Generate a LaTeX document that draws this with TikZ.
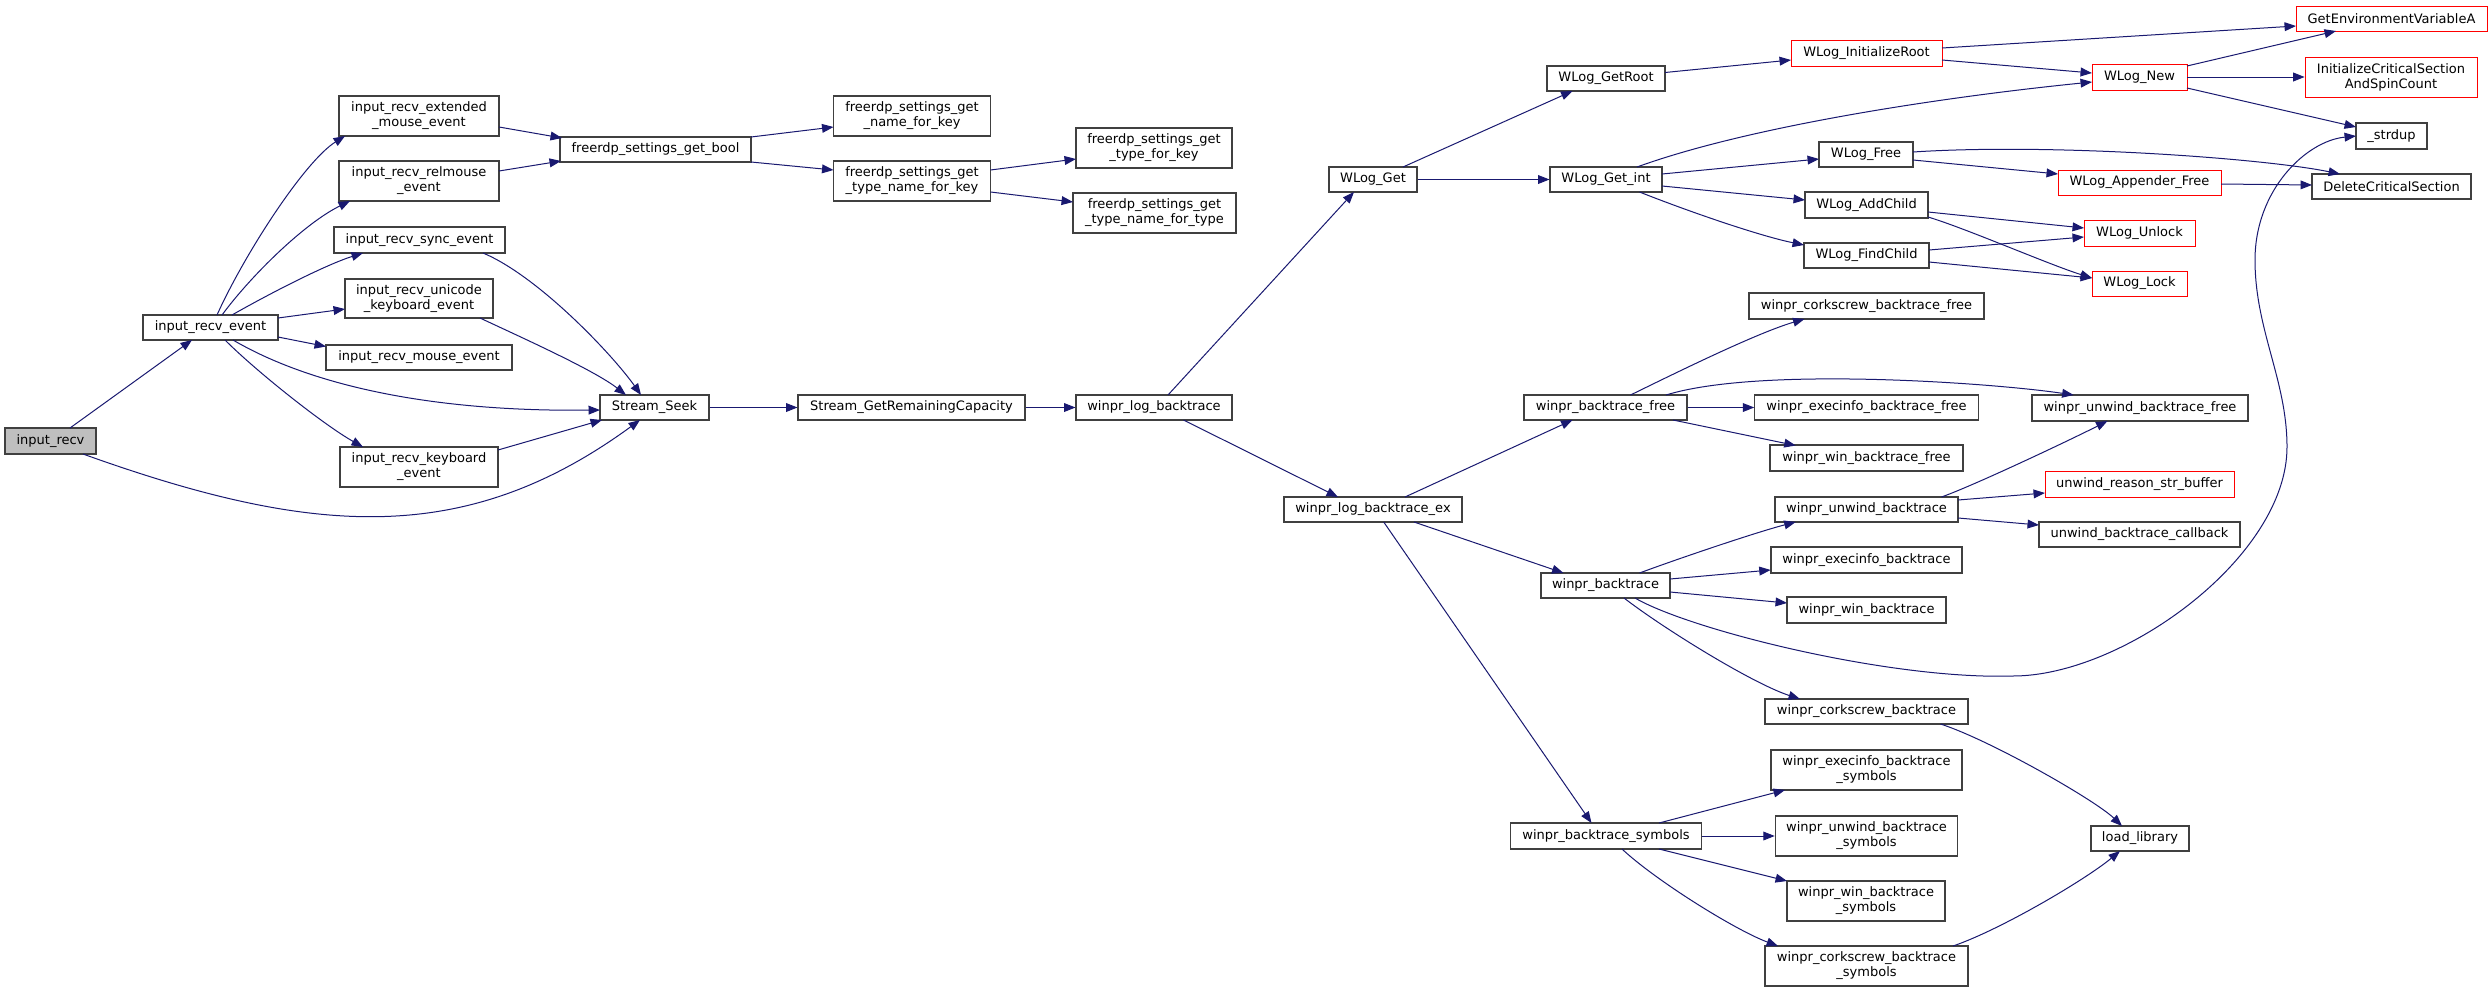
\documentclass[tikz,border=0pt]{standalone}
\usepackage{fontspec}
\setmainfont{DejaVu Sans}
\usetikzlibrary{arrows.meta,calc}
\definecolor{edgec}{HTML}{191970}
\definecolor{boxc}{HTML}{404040}
\definecolor{redc}{HTML}{FF0000}
\definecolor{rootc}{HTML}{BFBFBF}
\tikzset{
  nd/.style={draw=boxc, line width=0.8pt, fill=white, inner sep=0pt, align=center,
    font=\fontsize{9.75}{11.3}\selectfont},
  rd/.style={nd, draw=redc, line width=0.6pt},
  sz/.style 2 args={minimum width=#1*0.75pt, minimum height=#2*0.75pt},
  ed/.style={draw=edgec, line width=0.75pt, -{Triangle[length=8.6pt,width=6.6pt]}},
}
\begin{document}
\begin{tikzpicture}[x=0.75pt,y=-0.75pt]
\fill[white] (0,0) rectangle (2492,993);
\useasboundingbox (0,0) rectangle (2492,993);
% column 0-2
\node[nd,sz={91}{26},fill=rootc] (irecv) at (50.5,441) {input\_recv};
\node[nd,sz={135}{25}] (irevt) at (210.5,327.5) {input\_recv\_event};
\node[nd,sz={160}{40}] (ext) at (419,116) {input\_recv\_extended\\\_mouse\_event};
\node[nd,sz={160}{40}] (rel) at (419,181) {input\_recv\_relmouse\\\_event};
\node[nd,sz={171}{26}] (sync) at (419.5,240) {input\_recv\_sync\_event};
\node[nd,sz={148}{39}] (uni) at (419,298.5) {input\_recv\_unicode\\\_keyboard\_event};
\node[nd,sz={186}{25}] (mouse) at (419,357.5) {input\_recv\_mouse\_event};
\node[nd,sz={158}{40}] (kbd) at (419,467) {input\_recv\_keyboard\\\_event};
% column 3-5
\node[nd,sz={191}{25}] (gbool) at (655.5,149.5) {freerdp\_settings\_get\_bool};
\node[nd,sz={109}{25}] (seek) at (654.5,407.5) {Stream\_Seek};
\node[nd,sz={157}{40}] (nfk) at (912,116) {freerdp\_settings\_get\\\_name\_for\_key};
\node[nd,sz={157}{40}] (tnfk) at (912,181) {freerdp\_settings\_get\\\_type\_name\_for\_key};
\node[nd,sz={227}{25}] (cap) at (911.5,407.5) {Stream\_GetRemainingCapacity};
\node[nd,sz={156}{40}] (tfk) at (1154,148) {freerdp\_settings\_get\\\_type\_for\_key};
\node[nd,sz={163}{40}] (tnft) at (1154.5,213) {freerdp\_settings\_get\\\_type\_name\_for\_type};
\node[nd,sz={156}{25}] (wlb) at (1154,407.5) {winpr\_log\_backtrace};
% column 6-7
\node[nd,sz={88}{25}] (wget) at (1373,179.5) {WLog\_Get};
\node[nd,sz={178}{25}] (wlbex) at (1373,509.5) {winpr\_log\_backtrace\_ex};
\node[nd,sz={118}{25}] (groot) at (1606,78.5) {WLog\_GetRoot};
\node[nd,sz={112}{25}] (gint) at (1606,179.5) {WLog\_Get\_int};
\node[nd,sz={163}{25}] (btfree) at (1605.5,407.5) {winpr\_backtrace\_free};
\node[nd,sz={129}{25}] (bt) at (1605.5,585.5) {winpr\_backtrace};
\node[nd,sz={190.5}{26}] (btsym) at (1606,836) {winpr\_backtrace\_symbols};
% column 8
\node[rd,sz={151}{26}] (initroot) at (1866.5,53) {WLog\_InitializeRoot};
\node[nd,sz={94}{25}] (wfree) at (1866,154.5) {WLog\_Free};
\node[nd,sz={123}{26}] (addch) at (1866.5,205) {WLog\_AddChild};
\node[nd,sz={125}{25}] (findch) at (1866.5,255.5) {WLog\_FindChild};
\node[nd,sz={235}{26}] (ccfree) at (1866.5,306) {winpr\_corkscrew\_backtrace\_free};
\node[nd,sz={223.5}{25}] (efree) at (1866.5,407.5) {winpr\_execinfo\_backtrace\_free};
\node[nd,sz={193}{26}] (wbfree) at (1866.5,458) {winpr\_win\_backtrace\_free};
\node[nd,sz={183}{25}] (unw) at (1866.5,509.5) {winpr\_unwind\_backtrace};
\node[nd,sz={191}{26}] (exbt) at (1866.5,560) {winpr\_execinfo\_backtrace};
\node[nd,sz={159}{26}] (winbt) at (1866.5,610) {winpr\_win\_backtrace};
\node[nd,sz={203}{25}] (ccbt) at (1866.5,711.5) {winpr\_corkscrew\_backtrace};
\node[nd,sz={191}{40}] (exsym) at (1866.5,770) {winpr\_execinfo\_backtrace\\\_symbols};
\node[nd,sz={182.5}{40}] (unsym) at (1866.5,836) {winpr\_unwind\_backtrace\\\_symbols};
\node[nd,sz={158}{40}] (winsym) at (1866,901) {winpr\_win\_backtrace\\\_symbols};
\node[nd,sz={203}{40}] (ccsym) at (1866.5,966) {winpr\_corkscrew\_backtrace\\\_symbols};
% column 9
\node[rd,sz={95}{26}] (wnew) at (2139.5,77) {WLog\_New};
\node[rd,sz={163}{25}] (appfree) at (2139.5,182.5) {WLog\_Appender\_Free};
\node[rd,sz={111}{26}] (unlock) at (2139.5,233) {WLog\_Unlock};
\node[rd,sz={95}{25}] (lock) at (2139.5,283.5) {WLog\_Lock};
\node[nd,sz={216}{26}] (uwfree) at (2140,408) {winpr\_unwind\_backtrace\_free};
\node[rd,sz={189}{26}] (reason) at (2139.5,484) {unwind\_reason\_str\_buffer};
\node[nd,sz={201}{25}] (cb) at (2139.5,534.5) {unwind\_backtrace\_callback};
\node[nd,sz={98}{25}] (loadlib) at (2140,838.5) {load\_library};
% column 10
\node[rd,sz={191}{25}] (genv) at (2391.5,18.5) {GetEnvironmentVariableA};
\node[rd,sz={172}{40}] (icsa) at (2391,77) {InitializeCriticalSection\\AndSpinCount};
\node[nd,sz={71}{26}] (strdup) at (2391.5,136) {\_strdup};
\node[nd,sz={159}{25}] (delcs) at (2391.5,186.5) {DeleteCriticalSection};
% edges
\draw[ed] ($(irecv)+(19.5,-13)$) -- ($(irevt)+(-18.5,12.5)$);
\draw[ed] ($(irecv)+(32.5,13)$) .. controls (314,537) and (466,547) .. ($(seek)+(-14.5,12.5)$);
\draw[ed] ($(irevt)+(6.5,-12.5)$) .. controls (245,253) and (305,161) .. ($(ext)+(-74,20)$);
\draw[ed] ($(irevt)+(11.5,-12.5)$) .. controls (251.5,275) and (305,223) .. ($(rel)+(-69,20)$);
\draw[ed] ($(irevt)+(21.5,-12.5)$) .. controls (267,295) and (325,265) .. ($(sync)+(-56.5,13)$);
\draw[ed] ($(irevt)+(67.5,-9.5)$) -- ($(uni)+(-74,10.5)$);
\draw[ed] ($(irevt)+(67.5,9.5)$) -- ($(mouse)+(-93,-11)$);
\draw[ed] ($(irevt)+(22.5,12.5)$) .. controls (310,385) and (430,412) .. ($(seek)+(-54.5,2.5)$);
\draw[ed] ($(irevt)+(14.5,12.5)$) .. controls (257,372) and (324,425) .. ($(kbd)+(-56,-20)$);
\draw[ed] ($(sync)+(63.5,13)$) .. controls (538,276) and (612,354) .. ($(seek)+(-13.5,-12.5)$);
\draw[ed] ($(uni)+(61,19.5)$) .. controls (520.5,337) and (594,370) .. ($(seek)+(-28.5,-12.5)$);
\draw[ed] ($(kbd)+(79,-17)$) -- ($(seek)+(-52.5,12.5)$);
\draw[ed] ($(ext)+(80,11)$) -- ($(gbool)+(-93.5,-11.5)$);
\draw[ed] ($(rel)+(80,-10)$) -- ($(gbool)+(-94.5,11.5)$);
\draw[ed] ($(gbool)+(95.5,-12.5)$) -- ($(nfk)+(-78.5,11)$);
\draw[ed] ($(gbool)+(95.5,12.5)$) -- ($(tnfk)+(-78.5,-11)$);
\draw[ed] ($(tnfk)+(78.5,-11)$) -- ($(tfk)+(-78,11)$);
\draw[ed] ($(tnfk)+(78.5,11)$) -- ($(tnft)+(-81.5,-11)$);
\draw[ed] (seek) -- (cap);
\draw[ed] (cap) -- (wlb);
\draw[ed] ($(wlb)+(14,-12.5)$) -- ($(wget)+(-19,12.5)$);
\draw[ed] ($(wlb)+(29.5,12.5)$) -- ($(wlbex)+(-35,-12.5)$);
\draw[ed] ($(wget)+(30,-12.5)$) -- ($(groot)+(-33.5,12.5)$);
\draw[ed] (wget) -- (gint);
\draw[ed] ($(groot)+(59,-6)$) -- ($(initroot)+(-75.5,7)$);
\draw[ed] ($(gint)+(31,-12.5)$) .. controls (1750,126) and (1943,97) .. ($(wnew)+(-47.5,5)$);
\draw[ed] ($(gint)+(56,-5.5)$) -- ($(wfree)+(-47,4.5)$);
\draw[ed] ($(gint)+(56,6.5)$) -- ($(addch)+(-61.5,-5)$);
\draw[ed] ($(gint)+(33.5,12.5)$) .. controls (1690,212) and (1760,236) .. ($(findch)+(-62.5,-10.5)$);
\draw[ed] ($(initroot)+(75.5,-5)$) -- ($(genv)+(-95.5,7.5)$);
\draw[ed] ($(initroot)+(75.5,7)$) -- ($(wnew)+(-47.5,-4)$);
\draw[ed] ($(wnew)+(47.5,-11)$) -- ($(genv)+(-55.5,12.5)$);
\draw[ed] (wnew) -- (icsa);
\draw[ed] ($(wnew)+(47.5,11)$) -- ($(strdup)+(-35.5,-9)$);
\draw[ed] ($(wfree)+(47,-2.5)$) .. controls (2050,143) and (2262,158) .. ($(delcs)+(-51.5,-12.5)$);
\draw[ed] ($(wfree)+(47,5.5)$) -- ($(appfree)+(-81.5,-8.5)$);
\draw[ed] ($(appfree)+(81.5,1.5)$) -- ($(delcs)+(-79.5,-1.5)$);
\draw[ed] ($(addch)+(61.5,7)$) -- ($(unlock)+(-55.5,-5)$);
\draw[ed] ($(addch)+(61.5,12)$) .. controls (1965,228) and (2050,265) .. ($(lock)+(-47.5,-5.5)$);
\draw[ed] ($(findch)+(62.5,-5.5)$) -- ($(unlock)+(-55.5,4)$);
\draw[ed] ($(findch)+(62.5,6.5)$) -- ($(lock)+(-47.5,-5.5)$);
\draw[ed] ($(wlbex)+(32,-12.5)$) -- ($(btfree)+(-33,12.5)$);
\draw[ed] ($(wlbex)+(41,12.5)$) -- ($(bt)+(-42,-12.5)$);
\draw[ed] ($(wlbex)+(10.7,12.5)$) -- ($(btsym)+(-14.5,-13)$);
\draw[ed] ($(btfree)+(25,-12.5)$) .. controls (1675.5,373) and (1756.6,333) .. ($(ccfree)+(-62,13)$);
\draw[ed] (btfree) -- (efree);
\draw[ed] ($(btfree)+(67.5,12.5)$) -- ($(wbfree)+(-70.8,-12.5)$);
\draw[ed] ($(btfree)+(60.5,-12.5)$) .. controls (1760,366) and (1993.6,383) .. ($(uwfree)+(-66.4,-13)$);
\draw[ed] ($(bt)+(34,-12.5)$) .. controls (1680,558) and (1757,532) .. ($(unw)+(-70.8,12.5)$);
\draw[ed] ($(bt)+(64.5,-6.5)$) -- ($(exbt)+(-95.8,10)$);
\draw[ed] ($(bt)+(64.5,6.5)$) -- ($(winbt)+(-79.5,-7)$);
\draw[ed] ($(bt)+(18.5,12.5)$) .. controls (1663.5,628.5) and (1752.5,683.5) .. ($(ccbt)+(-66.5,-12.5)$);
\draw[ed] ($(bt)+(29.5,12.5)$) .. controls (1690,630) and (1890,680) .. (2013,676)
   .. controls (2123,676) and (2287,557) .. (2287,447)
   .. controls (2287,380) and (2255,330) .. (2255,260)
   .. controls (2255,190) and (2306,141) .. ($(strdup)+(-35.5,0)$);
\draw[ed] ($(unw)+(75,-12.5)$) .. controls (1975,485) and (2070,440) .. ($(uwfree)+(-32.5,13)$);
\draw[ed] ($(unw)+(91.5,-9.5)$) -- ($(reason)+(-94.5,9)$);
\draw[ed] ($(unw)+(91.5,8.5)$) -- ($(cb)+(-100.5,-9.5)$);
\draw[ed] ($(ccbt)+(74,12.5)$) .. controls (1990,740) and (2095,800) .. ($(loadlib)+(-18,-12.5)$);
\draw[ed] ($(btsym)+(53,-13)$) -- ($(exsym)+(-81.5,20)$);
\draw[ed] (btsym) -- (unsym);
\draw[ed] ($(btsym)+(53,13)$) -- ($(winsym)+(-79,-20)$);
\draw[ed] ($(btsym)+(16,13)$) .. controls (1655,880) and (1735,930) .. ($(ccsym)+(-88.5,-20)$);
\draw[ed] ($(ccsym)+(86.5,-20)$) .. controls (2000,930) and (2085,880) .. ($(loadlib)+(-20,12.5)$);
\end{tikzpicture}
\end{document}
